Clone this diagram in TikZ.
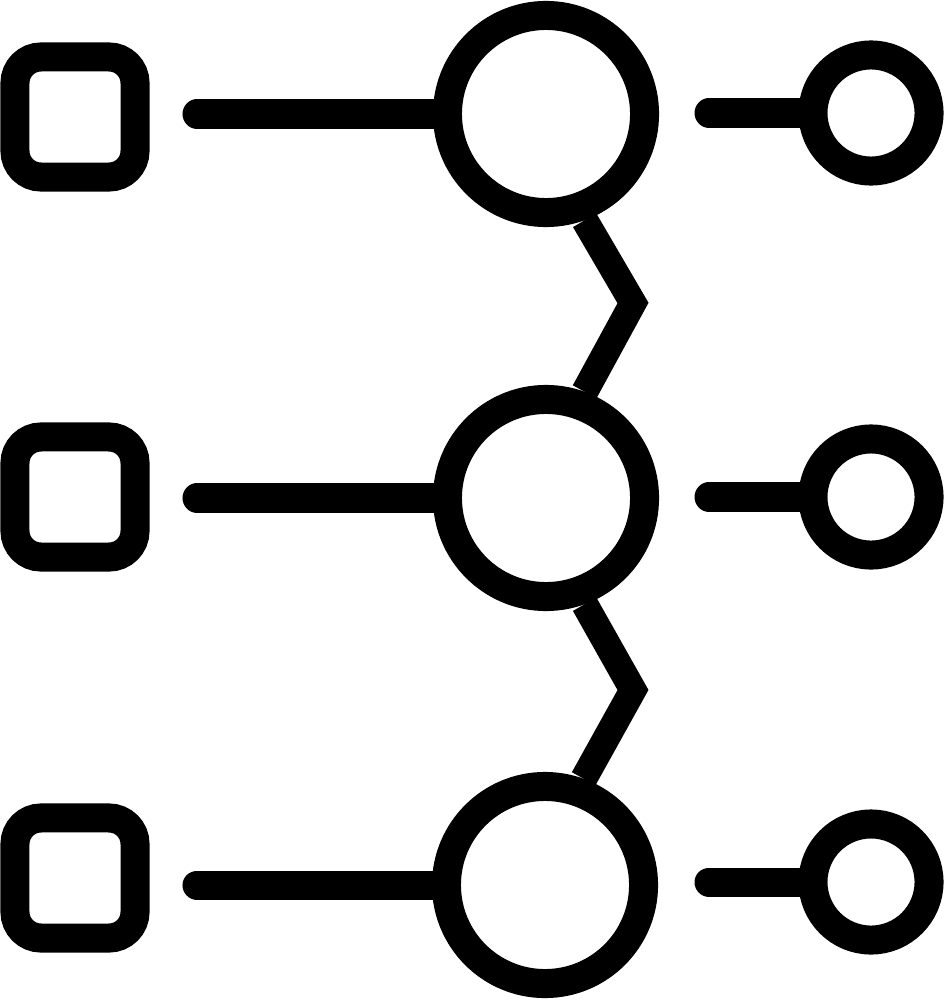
\documentclass[tikz,border=0pt]{standalone}
\begin{document}
\begin{tikzpicture}[x=0.01cm,y=-0.01cm,line width=0.29cm,square_node/.style={rectangle,draw,rounded corners=0.26cm,minimum size=1.2cm,inner sep=0pt},big_node/.style={circle,draw,minimum size=1.97cm,inner sep=0pt},small_node/.style={circle,draw,minimum size=1.16cm,inner sep=0pt}]
		
		\useasboundingbox (0,0) rectangle (948,1000);
		
		\node[square_node] (s1) at (75,117) {};
		\node[square_node] (s2) at (75,497) {};
		\node[square_node] (s3) at (75,878) {};
		\node[big_node] (b1) at (546,114) {};
		\node[big_node] (b2) at (546,498) {};
		\node[big_node] (b3) at (545,885) {};
		\node[small_node] (c1) at (871,113) {};
		\node[small_node] (c2) at (871,497) {};
		\node[small_node] (c3) at (871,882) {};
		
		\coordinate (l1) at (197,114);
		\coordinate (l2) at (197,498);
		\coordinate (l3) at (197,885);
		\coordinate (r1) at (709,113);
		\coordinate (r2) at (709,497);
		\coordinate (r3) at (709,882);
		\coordinate (k1) at (633,303);
		\coordinate (k2) at (633,690);
		
		\draw[line cap=round] (l1) -- (b1);
		\draw[line cap=round] (l2) -- (b2);
		\draw[line cap=round] (l3) -- (b3);
		\draw[line cap=round] (r1) -- (c1);
		\draw[line cap=round] (r2) -- (c2);
		\draw[line cap=round] (r3) -- (c3);
		\draw[line width=0.27cm] (b1.-70) -- (k1) -- (b2.70);
		\draw[line width=0.27cm] (b2.-70) -- (k2) -- (b3.70);
		\end{tikzpicture}
\end{document}
